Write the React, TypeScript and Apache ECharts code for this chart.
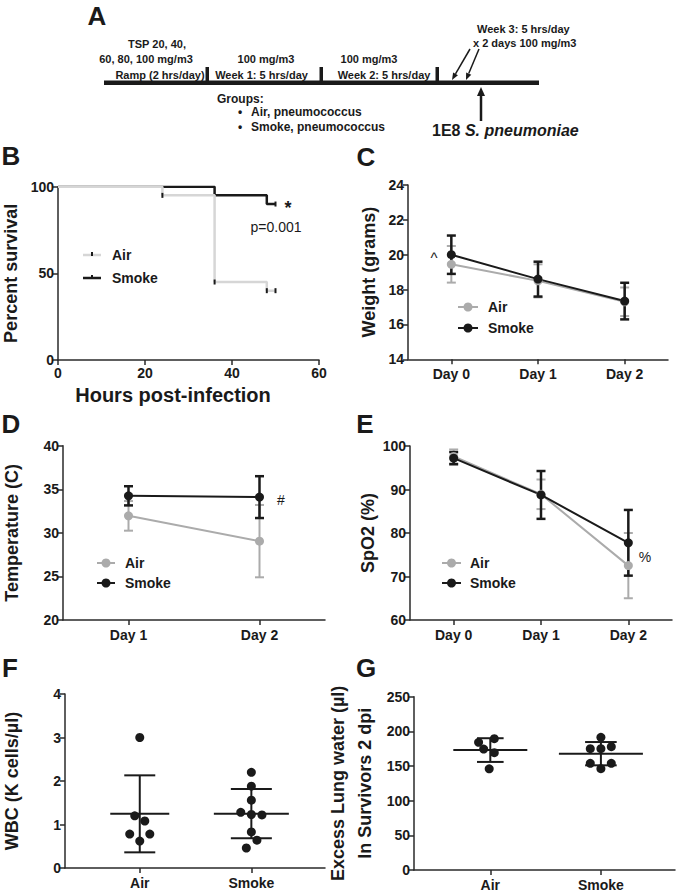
import React, { useEffect, useRef } from "react";
import * as echarts from "echarts";

// ---------- data ----------
const survivalAir = [[0, 100], [24, 95], [36, 45], [48, 40], [50, 40]];
const survivalSmoke = [[0, 100], [36, 95], [48, 90], [50, 90]];
const censorAir = [[24, 95], [36, 45], [48, 40], [50, 40]];
const censorSmoke = [[50, 90]];

const weightDays = ["Day 0", "Day 1", "Day 2"];
const weightAirMean = [19.45, 18.5, 17.3];
const weightAirSd = [1.05, 0.95, 0.82];
const weightSmokeMean = [20.0, 18.6, 17.34];
const weightSmokeSd = [1.1, 1.0, 1.05];

const tempDays = ["Day 1", "Day 2"];
const tempAirMean = [31.95, 29.05];
const tempAirSd = [1.7, 4.15];
const tempSmokeMean = [34.25, 34.1];
const tempSmokeSd = [1.1, 2.4];

const spo2Days = ["Day 0", "Day 1", "Day 2"];
const spo2AirMean = [97.6, 88.9, 72.5];
const spo2AirSd = [1.6, 3.4, 7.5];
const spo2SmokeMean = [97.2, 88.75, 77.75];
const spo2SmokeSd = [1.4, 5.5, 7.55];

const groups = ["Air", "Smoke"];
const wbcAirX = [1.0, 0.955, 1.045, 0.91, 1.09, 1.0];
const wbcAirY = [3.0, 1.2, 1.08, 0.78, 0.78, 0.62];
const wbcSmokeX = [2.0, 2.0, 2.0, 1.905, 2.0, 2.095, 2.0, 2.05, 1.955];
const wbcSmokeY = [2.2, 1.88, 1.56, 1.28, 1.23, 1.22, 0.83, 0.64, 0.46];
const wbcMean = [1.245, 1.25];
const wbcSd = [0.885, 0.567];

const lungAirX = [0.894, 1.036, 0.94, 1.036, 0.99];
const lungAirY = [184.2, 189.4, 174.5, 169.2, 146];
const lungSmokeX = [2.0, 1.904, 2.0, 2.094, 1.904, 2.0, 2.094];
const lungSmokeY = [191.4, 175, 175, 177.9, 153.9, 146.1, 153.9];
const lungMean = [173, 167.8];
const lungSd = [17.1, 16.8];

// ---------- styles ----------
const FONT = '"Liberation Sans", Arial, Helvetica, sans-serif';
const INK = "#1a1a1a";
const AXIS = "#2a2a2a";
const GRAY = "#ababab";
const LIGHT = "#d6d6d6";

const axisCommon = {
  axisLine: { show: true, onZero: false, lineStyle: { color: AXIS, width: 1.5 } },
  axisTick: { show: true, length: 5, lineStyle: { color: AXIS, width: 1.5 } },
  axisLabel: { fontFamily: FONT, fontWeight: "bold", fontSize: 14, color: INK, margin: 6 },
  splitLine: { show: false },
};

function yAxisDef(gi: number, min: number, max: number, interval: number, name: string, gap: number, extra: any = {}) {
  return {
    ...axisCommon,
    type: "value",
    gridIndex: gi,
    min,
    max,
    interval,
    name,
    nameLocation: "middle",
    nameGap: gap,
    nameRotate: 90,
    nameTextStyle: { fontFamily: FONT, fontWeight: "bold", fontSize: 18, color: INK, ...extra },
    axisLabel: { ...axisCommon.axisLabel, margin: 4 },
  };
}

function catAxisDef(gi: number, cats: string[]) {
  return {
    ...axisCommon,
    type: "category",
    gridIndex: gi,
    data: cats,
    boundaryGap: true,
    axisTick: { ...axisCommon.axisTick, alignWithLabel: true },
    axisLabel: { ...axisCommon.axisLabel, margin: 8 },
  };
}

function groupAxisDef(gi: number, min: number, max: number) {
  return {
    ...axisCommon,
    type: "value",
    gridIndex: gi,
    min,
    max,
    axisTick: { ...axisCommon.axisTick, customValues: [1, 2] },
    axisLabel: {
      ...axisCommon.axisLabel,
      margin: 8,
      customValues: [1, 2],
      formatter: (v: number) => groups[Math.round(v) - 1] || "",
    },
  };
}

function errSeries(gi: number, means: number[], sds: number[], color: string, width: number, capHalf: number) {
  return {
    type: "custom",
    xAxisIndex: gi,
    yAxisIndex: gi,
    silent: true,
    encode: { x: 0, y: [1, 2] },
    data: means.map((m, i) => [i, m - sds[i], m + sds[i]]),
    renderItem: (params: any, api: any) => {
      const x = api.value(0);
      const p1 = api.coord([x, api.value(1)]);
      const p2 = api.coord([x, api.value(2)]);
      const st = { stroke: color, lineWidth: width };
      return {
        type: "group",
        children: [
          { type: "line", shape: { x1: p1[0], y1: p1[1], x2: p2[0], y2: p2[1] }, style: st },
          { type: "line", shape: { x1: p1[0] - capHalf, y1: p1[1], x2: p1[0] + capHalf, y2: p1[1] }, style: st },
          { type: "line", shape: { x1: p2[0] - capHalf, y1: p2[1], x2: p2[0] + capHalf, y2: p2[1] }, style: st },
        ],
      };
    },
  };
}

function lineSeries(gi: number, means: number[], color: string, width: number) {
  return {
    type: "line",
    xAxisIndex: gi,
    yAxisIndex: gi,
    silent: true,
    data: means,
    symbol: "circle",
    symbolSize: 9,
    lineStyle: { color, width },
    itemStyle: { color, opacity: 1 },
  };
}

function meanSdSeries(gi: number, means: number[], sds: number[], meanHalf: number[], capHalf: number[]) {
  return {
    type: "custom",
    xAxisIndex: gi,
    yAxisIndex: gi,
    silent: true,
    encode: { x: 0, y: [1, 2, 3] },
    data: means.map((m, i) => [i + 1, m, m - sds[i], m + sds[i]]),
    renderItem: (params: any, api: any) => {
      const i = params.dataIndex;
      const x = api.value(0);
      const pm = api.coord([x, api.value(1)]);
      const pl = api.coord([x, api.value(2)]);
      const ph = api.coord([x, api.value(3)]);
      const st = { stroke: INK, lineWidth: 2 };
      return {
        type: "group",
        children: [
          { type: "line", shape: { x1: pm[0] - meanHalf[i], y1: pm[1], x2: pm[0] + meanHalf[i], y2: pm[1] }, style: st },
          { type: "line", shape: { x1: pl[0], y1: pl[1], x2: ph[0], y2: ph[1] }, style: st },
          { type: "line", shape: { x1: pl[0] - capHalf[i], y1: pl[1], x2: pl[0] + capHalf[i], y2: pl[1] }, style: st },
          { type: "line", shape: { x1: ph[0] - capHalf[i], y1: ph[1], x2: ph[0] + capHalf[i], y2: ph[1] }, style: st },
        ],
      };
    },
  };
}

function dots(gi: number, xs: number[], ys: number[]) {
  return {
    type: "scatter",
    xAxisIndex: gi,
    yAxisIndex: gi,
    silent: true,
    symbol: "circle",
    symbolSize: 9,
    itemStyle: { color: INK, opacity: 1 },
    data: xs.map((x, i) => [x, ys[i]]),
    z: 3,
  };
}

// ---------- graphic helpers ----------
function txt(x: number, y: number, text: string, size: number, opts: any = {}) {
  const align = opts.align || "center";
  return {
    type: "text",
    x,
    y,
    silent: true,
    style: {
      text,
      fill: opts.fill || INK,
      fontFamily: FONT,
      fontSize: size,
      fontWeight: opts.weight || "bold",
      fontStyle: opts.style || "normal",
      align,
      textAlign: align,
      verticalAlign: "middle",
      textVerticalAlign: "middle",
      rich: opts.rich,
    },
  };
}

function arrow(x1: number, y1: number, x2: number, y2: number, w: number, head: number, hw: number) {
  const dx = x2 - x1;
  const dy = y2 - y1;
  const len = Math.sqrt(dx * dx + dy * dy);
  const ux = dx / len;
  const uy = dy / len;
  const bx = x2 - ux * head;
  const by = y2 - uy * head;
  const px = -uy;
  const py = ux;
  return [
    { type: "line", silent: true, shape: { x1, y1, x2: bx, y2: by }, style: { stroke: INK, lineWidth: w } },
    {
      type: "polygon",
      silent: true,
      shape: { points: [[x2, y2], [bx + px * hw, by + py * hw], [bx - px * hw, by - py * hw]] },
      style: { fill: INK },
    },
  ];
}

function legendItem(x1: number, x2: number, y: number, color: string, label: string, textX: number, withDot: boolean, tick = false) {
  const els: any[] = [
    { type: "line", silent: true, shape: { x1, y1: y, x2, y2: y }, style: { stroke: color, lineWidth: withDot ? 2 : 2.5 } },
  ];
  if (withDot) {
    els.push({ type: "circle", silent: true, shape: { cx: (x1 + x2) / 2, cy: y, r: 4.5 }, style: { fill: color } });
  }
  if (tick) {
    els.push({ type: "rect", silent: true, shape: { x: (x1 + x2) / 2 - 1, y: y - 3, width: 2, height: 4 }, style: { fill: INK } });
  }
  els.push(txt(textX, y, label, 14, { align: "left" }));
  return els;
}

export default function App() {
  const ref = useRef<HTMLDivElement>(null);

  useEffect(() => {
    if (!ref.current) return;
    const chart = echarts.init(ref.current, null, { renderer: "svg" });

    const option: any = {
      animation: false,
      grid: [
        { left: 58, top: 186.7, width: 261, height: 173.3 },
        { left: 408, top: 185, width: 260, height: 174.3 },
        { left: 63, top: 445.7, width: 262, height: 174.3 },
        { left: 410, top: 446, width: 262, height: 174 },
        { left: 65, top: 694, width: 260, height: 174 },
        { left: 414, top: 696.7, width: 261, height: 173.3 },
      ],
      xAxis: [
        {
          ...axisCommon,
          type: "value",
          gridIndex: 0,
          min: 0,
          max: 60,
          interval: 20,
          axisLabel: { ...axisCommon.axisLabel, margin: 6 },
        },
        catAxisDef(1, weightDays),
        catAxisDef(2, tempDays),
        catAxisDef(3, spo2Days),
        groupAxisDef(4, 0.33, 2.66),
        groupAxisDef(5, 0.31, 2.67),
      ],
      yAxis: [
        yAxisDef(0, 0, 100, 50, "Percent survival", 38),
        yAxisDef(1, 14, 24, 2, "Weight (grams)", 30),
        yAxisDef(2, 20, 40, 5, "Temperature (C)", 42),
        yAxisDef(3, 60, 100, 10, "SpO2 (%)", 33),
        yAxisDef(4, 0, 4, 1, "WBC (K cells/µl)", 44),
        yAxisDef(5, 0, 250, 50, "Excess Lung water (µl)\nIn Survivors 2 dpi", 36, { lineHeight: 27 }),
      ],
      series: [
        // B survival
        {
          type: "line", xAxisIndex: 0, yAxisIndex: 0, silent: true, step: "end", symbol: "none",
          data: survivalSmoke, lineStyle: { color: INK, width: 2.5 },
        },
        {
          type: "line", xAxisIndex: 0, yAxisIndex: 0, silent: true, step: "end", symbol: "none",
          data: survivalAir, lineStyle: { color: LIGHT, width: 2.5 },
        },
        {
          type: "scatter", xAxisIndex: 0, yAxisIndex: 0, silent: true, symbol: "rect", symbolSize: [2, 5],
          itemStyle: { color: INK, opacity: 1 }, data: censorAir.concat(censorSmoke), z: 4,
        },
        // C weight
        errSeries(1, weightAirMean, weightAirSd, GRAY, 2, 4.5),
        lineSeries(1, weightAirMean, GRAY, 2),
        errSeries(1, weightSmokeMean, weightSmokeSd, INK, 2.5, 4.5),
        lineSeries(1, weightSmokeMean, INK, 2),
        // D temperature
        errSeries(2, tempAirMean, tempAirSd, GRAY, 2, 4.5),
        lineSeries(2, tempAirMean, GRAY, 2),
        errSeries(2, tempSmokeMean, tempSmokeSd, INK, 2.5, 4.5),
        lineSeries(2, tempSmokeMean, INK, 2),
        // E SpO2
        errSeries(3, spo2AirMean, spo2AirSd, GRAY, 2, 4.5),
        lineSeries(3, spo2AirMean, GRAY, 2),
        errSeries(3, spo2SmokeMean, spo2SmokeSd, INK, 2.5, 4.5),
        lineSeries(3, spo2SmokeMean, INK, 2),
        // F WBC
        meanSdSeries(4, wbcMean, wbcSd, [29.5, 37.5], [15.5, 20.5]),
        dots(4, wbcAirX, wbcAirY),
        dots(4, wbcSmokeX, wbcSmokeY),
        // G lung water
        meanSdSeries(5, lungMean, lungSd, [37, 42], [13.3, 15.8]),
        dots(5, lungAirX, lungAirY),
        dots(5, lungSmokeX, lungSmokeY),
      ],
      graphic: {
        elements: [
          // panel letters
          txt(97, 16, "A", 26, { align: "center" }),
          txt(11, 156, "B", 26),
          txt(366, 157, "C", 26),
          txt(11, 424, "D", 26),
          txt(365, 424, "E", 26),
          txt(10, 668, "F", 26),
          txt(366, 668, "G", 26),
          // panel A timeline
          { type: "rect", silent: true, shape: { x: 104, y: 80.5, width: 435, height: 4.5 }, style: { fill: INK } },
          { type: "rect", silent: true, shape: { x: 205.5, y: 67, width: 3.5, height: 15 }, style: { fill: INK } },
          { type: "rect", silent: true, shape: { x: 319.5, y: 67, width: 3.5, height: 15 }, style: { fill: INK } },
          { type: "rect", silent: true, shape: { x: 435.5, y: 67, width: 3.5, height: 15 }, style: { fill: INK } },
          txt(157, 44, "TSP 20, 40,", 11),
          txt(146, 59, "60, 80, 100 mg/m3", 11),
          txt(160, 75, "Ramp (2 hrs/day)", 11),
          txt(266, 59, "100 mg/m3", 11),
          txt(261.5, 75, "Week 1: 5 hrs/day", 11),
          txt(369, 59, "100 mg/m3", 11),
          txt(384, 75, "Week 2: 5 hrs/day", 11),
          txt(477, 29, "Week 3: 5 hrs/day", 11, { align: "left" }),
          txt(473, 43, "x 2 days 100 mg/m3", 11, { align: "left" }),
          ...arrow(470, 49, 452, 80, 1.5, 7, 2.8),
          ...arrow(479, 49, 466, 80, 1.5, 7, 2.8),
          ...arrow(481, 121, 481, 87, 2.5, 9, 4),
          txt(217, 99, "Groups:", 12, { align: "left" }),
          txt(240, 112, "•", 12, { align: "center" }),
          txt(251, 112, "Air, pneumococcus", 12, { align: "left" }),
          txt(240, 127, "•", 12, { align: "center" }),
          txt(251, 127, "Smoke, pneumococcus", 12, { align: "left" }),
          txt(432, 130, "{a|1E8 }{b|S. pneumoniae}", 16, {
            align: "left",
            rich: {
              a: { fontFamily: FONT, fontSize: 16, fontWeight: "bold", fill: INK, color: INK },
              b: { fontFamily: FONT, fontSize: 16, fontWeight: "bold", fontStyle: "italic", fill: INK, color: INK },
            },
          }),
          // panel B axis title, annotations + legend
          txt(173, 395, "Hours post-infection", 20),
          txt(288, 208, "*", 18),
          txt(276, 227, "p=0.001", 14, { weight: "normal" }),
          ...legendItem(83, 101, 255, LIGHT, "Air", 112, false, true),
          ...legendItem(83, 101, 278, INK, "Smoke", 112, false, true),
          // panel C
          txt(434, 257, "^", 15, { weight: "normal" }),
          ...legendItem(458, 478, 307, GRAY, "Air", 488, true),
          ...legendItem(458, 478, 328, INK, "Smoke", 488, true),
          // panel D
          txt(281, 500, "#", 14, { weight: "normal" }),
          ...legendItem(97, 115, 563, GRAY, "Air", 125, true),
          ...legendItem(97, 115, 583, INK, "Smoke", 125, true),
          // panel E
          txt(645, 557, "%", 14, { weight: "normal" }),
          ...legendItem(442, 461, 563, GRAY, "Air", 470, true),
          ...legendItem(442, 461, 583, INK, "Smoke", 470, true),
        ],
      },
    };

    chart.setOption(option);
    return () => chart.dispose();
  }, []);

  return (
    <div
      ref={ref}
      style={{ position: "absolute", left: 0, top: 0, width: 676, height: 895, background: "#fff" }}
    />
  );
}
